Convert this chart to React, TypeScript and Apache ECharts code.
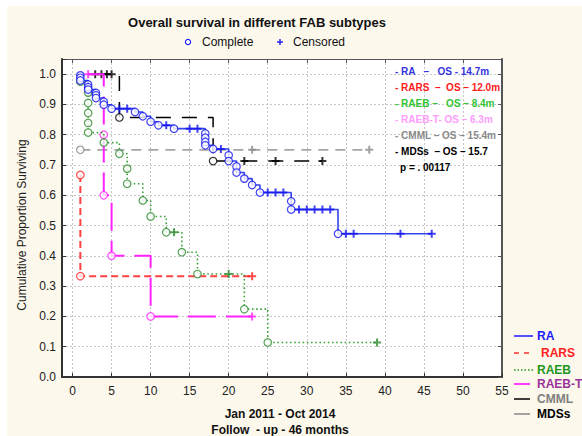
import React, { useEffect, useRef } from "react";
import * as echarts from "echarts";

// Kaplan–Meier estimates by FAB subtype: month, survival, censored flag (1 = censored)
const raMonths = [1, 1, 1, 2, 2, 2, 3, 3, 3, 4, 4, 5, 6, 7, 8, 9, 10, 11, 12, 13, 15, 16, 17, 17, 17, 17, 18, 19, 20, 20, 21, 21, 22, 23, 24, 25, 26, 27, 28, 28, 29, 30, 31, 32, 33, 34, 35, 36, 42, 46];
const raSurvival = [0.996, 0.988, 0.979, 0.966, 0.957, 0.949, 0.938, 0.93, 0.921, 0.909, 0.899, 0.886, 0.886, 0.886, 0.875, 0.861, 0.843, 0.831, 0.831, 0.82, 0.82, 0.82, 0.804, 0.79, 0.776, 0.765, 0.753, 0.753, 0.732, 0.713, 0.695, 0.675, 0.655, 0.634, 0.609, 0.609, 0.609, 0.609, 0.58, 0.553, 0.553, 0.553, 0.553, 0.553, 0.553, 0.473, 0.473, 0.473, 0.473, 0.473];
const raCensored = [0, 0, 0, 0, 0, 0, 0, 0, 0, 0, 0, 0, 1, 1, 0, 0, 0, 0, 1, 0, 1, 1, 0, 0, 0, 0, 0, 1, 0, 0, 0, 0, 0, 0, 0, 1, 1, 1, 0, 0, 1, 1, 1, 1, 1, 0, 1, 1, 1, 1];

const rarsMonths = [1, 1, 23];
const rarsSurvival = [0.667, 0.333, 0.333];
const rarsCensored = [0, 0, 1];

const raebMonths = [1, 2, 2, 2, 2, 2, 4, 6, 7, 7, 9, 10, 12, 13, 14, 16, 20, 22, 25, 39];
const raebSurvival = [0.975, 0.939, 0.905, 0.872, 0.839, 0.807, 0.774, 0.737, 0.688, 0.638, 0.583, 0.53, 0.478, 0.478, 0.412, 0.34, 0.34, 0.224, 0.114, 0.114];
const raebCensored = [0, 0, 0, 0, 0, 0, 0, 0, 0, 0, 0, 0, 0, 1, 0, 0, 1, 0, 0, 1];

const raebtMonths = [2, 4, 4, 5, 10, 23];
const raebtSurvival = [1.0, 0.8, 0.6, 0.4, 0.2, 0.2];
const raebtCensored = [1, 0, 0, 0, 0, 1];

const cmmlMonths = [1, 23, 38];
const cmmlSurvival = [0.75, 0.75, 0.75];
const cmmlCensored = [0, 1, 1];

const mdsMonths = [2.9, 3.7, 4.4, 5.0, 6, 18, 22, 26, 32];
const mdsSurvival = [1, 1, 1, 1, 0.857, 0.713, 0.713, 0.713, 0.713];
const mdsCensored = [1, 1, 1, 1, 0, 0, 1, 1, 1];

const xTicks = [0, 5, 10, 15, 20, 25, 30, 35, 40, 45, 50, 55];

const osNotes = [
  "- RA   \u2013   OS - 14.7m",
  "- RARS  \u2013  OS \u2013 12.0m",
  "- RAEB \u2013   OS \u2013 8.4m",
  "- RAEB-T- OS \u2013 6.3m",
  "- CMML \u2013 OS \u2013 15.4m",
  "- MDSs  \u2013 OS \u2013 15.7",
  "p = . 00117",
];
const osNoteColors = ["#3535E0", "#FF1A1A", "#33C433", "#FF9CFF", "#8A8A8A", "#000000", "#000000"];

const legendNames = ["RA", "RARS", "RAEB", "RAEB-T", "CMML", "MDSs"];
const legendTextColors = ["#1A1AFF", "#FF2020", "#1E961E", "#993399", "#808080", "#000000"];

const FONT = '"Liberation Sans", Arial, sans-serif';
const PLUS = "path://M3,0H5V3H8V5H5V8H3V5H0V3H3Z";

type Style = { color: string; marker: string; width: number; dash: number[] | "solid" };

function kmSeries(name: string, months: number[], surv: number[], cens: number[], s: Style, z: number) {
  const pts = months.map((m, i) => [m, surv[i]]);
  return [
    {
      name,
      type: "line",
      step: "end",
      data: pts,
      symbol: "none",
      silent: true,
      z,
      lineStyle: { color: s.color, width: s.width, type: s.dash },
    },
    {
      name: name + "-marks",
      type: "scatter",
      silent: true,
      z: z + 1,
      data: pts.map((p, i) =>
        cens[i]
          ? { value: p, symbol: PLUS, symbolSize: 8, itemStyle: { color: s.marker, borderWidth: 0 } }
          : { value: p, symbol: "circle", symbolSize: 7.5, itemStyle: { color: "#ffffff", borderColor: s.marker, borderWidth: 1.2 } }
      ),
    },
  ];
}

const styles: Record<string, Style> = {
  RA: { color: "#3344EE", marker: "#1414F0", width: 1.6, dash: "solid" },
  RARS: { color: "#FF4040", marker: "#FF2020", width: 2, dash: [7, 4] },
  RAEB: { color: "#3AA33A", marker: "#2A8A2A", width: 1.6, dash: [1.6, 2.6] },
  RAEBT: { color: "#FF22FF", marker: "#FF22FF", width: 2, dash: [28, 10] },
  CMML: { color: "#A5A5A5", marker: "#8A8A8A", width: 1.8, dash: [10, 7] },
  MDS: { color: "#000000", marker: "#000000", width: 1.5, dash: [15, 11] },
};

const legendLines: { color: string; width: number; dash: number[] | "solid" }[] = [
  { color: "#1A1AFF", width: 1.5, dash: "solid" },
  { color: "#FF3030", width: 1.5, dash: [5, 5] },
  { color: "#1E961E", width: 1.5, dash: [1.5, 2] },
  { color: "#FF00FF", width: 1.5, dash: "solid" },
  { color: "#000000", width: 1.5, dash: "solid" },
  { color: "#888888", width: 1.5, dash: "solid" },
];

function buildOption() {
  const series = [
    ...kmSeries("CMML", cmmlMonths, cmmlSurvival, cmmlCensored, styles.CMML, 2),
    ...kmSeries("MDSs", mdsMonths, mdsSurvival, mdsCensored, styles.MDS, 4),
    ...kmSeries("RARS", rarsMonths, rarsSurvival, rarsCensored, styles.RARS, 6),
    ...kmSeries("RAEB-T", raebtMonths, raebtSurvival, raebtCensored, styles.RAEBT, 8),
    ...kmSeries("RAEB", raebMonths, raebSurvival, raebCensored, styles.RAEB, 10),
    ...kmSeries("RA", raMonths, raSurvival, raCensored, styles.RA, 12),
  ];

  const graphic: any[] = [
    {
      type: "text",
      x: 257,
      y: 22,
      style: { text: "Overall survival in different FAB subtypes", font: `bold 13px ${FONT}`, fill: "#111", align: "center", verticalAlign: "middle" },
    },
    { type: "circle", shape: { cx: 188, cy: 42, r: 2.6 }, style: { fill: "#fff", stroke: "#1A1AFF", lineWidth: 1.2 } },
    { type: "text", x: 202, y: 42, style: { text: "Complete", font: `12px ${FONT}`, fill: "#111", verticalAlign: "middle" } },
    { type: "line", shape: { x1: 277, y1: 42, x2: 283, y2: 42 }, style: { stroke: "#1A1AFF", lineWidth: 1.4 } },
    { type: "line", shape: { x1: 280, y1: 39, x2: 280, y2: 45 }, style: { stroke: "#1A1AFF", lineWidth: 1.4 } },
    { type: "text", x: 293, y: 42, style: { text: "Censored", font: `12px ${FONT}`, fill: "#111", verticalAlign: "middle" } },
    {
      type: "text",
      x: 22,
      y: 225,
      rotation: Math.PI / 2,
      style: { text: "Cumulative Proportion Surviving", font: `12px ${FONT}`, fill: "#222", align: "center", verticalAlign: "middle" },
    },
    { type: "text", x: 280, y: 414, style: { text: "Jan 2011 - Oct 2014", font: `bold 12px ${FONT}`, fill: "#111", align: "center", verticalAlign: "middle" } },
    { type: "text", x: 280, y: 430, style: { text: "Follow  - up - 46 months", font: `bold 12px ${FONT}`, fill: "#111", align: "center", verticalAlign: "middle" } },
  ];

  const noteY = [71, 87, 103, 119, 135, 151.5, 167];
  osNotes.forEach((t, i) => {
    graphic.push({
      type: "text",
      x: i === 6 ? 400 : 395,
      y: noteY[i],
      z: 50,
      style: { text: t, font: `bold 10px ${FONT}`, fill: osNoteColors[i], verticalAlign: "middle" },
    });
  });

  const legY = [336, 353, 370, 384, 399, 414];
  legendNames.forEach((n, i) => {
    const l = legendLines[i];
    graphic.push({
      type: "line",
      shape: { x1: 514, y1: legY[i], x2: i === 0 || i === 2 ? 533 : 530, y2: legY[i] },
      style: { stroke: l.color, lineWidth: l.width, lineDash: l.dash === "solid" ? null : l.dash },
    });
    graphic.push({
      type: "text",
      x: i === 1 ? 541 : 537,
      y: legY[i],
      style: { text: n, font: `bold 12px ${FONT}`, fill: legendTextColors[i], verticalAlign: "middle" },
    });
  });

  const gridLine = { show: true, lineStyle: { color: "#C6C6C6", width: 1, type: [2, 2] } };

  return {
    animation: false,
    backgroundColor: "transparent",
    grid: { left: 62, top: 59, right: 80, bottom: 59, show: true, backgroundColor: "#ffffff", borderWidth: 0 },
    xAxis: [
      {
        type: "value",
        min: -1.35,
        max: 55,
        position: "bottom",
        axisLine: { show: true, onZero: false, lineStyle: { color: "#333", width: 2 } },
        axisTick: { show: true, inside: true, length: 4, customValues: xTicks, lineStyle: { color: "#333" } },
        axisLabel: { customValues: xTicks, color: "#222", fontSize: 12, fontFamily: FONT, margin: 8 },
        splitLine: gridLine,
      },
      {
        type: "value",
        min: -1.35,
        max: 55,
        position: "top",
        axisLine: { show: true, onZero: false, lineStyle: { color: "#555", width: 1 } },
        axisTick: { show: true, inside: true, length: 4, customValues: xTicks, lineStyle: { color: "#555" } },
        axisLabel: { show: false },
        splitLine: { show: false },
      },
    ],
    yAxis: [
      {
        type: "value",
        min: 0,
        max: 1.05,
        interval: 0.1,
        position: "left",
        axisLine: { show: true, onZero: false, lineStyle: { color: "#333", width: 2 } },
        axisTick: { show: true, inside: true, length: 4, lineStyle: { color: "#333" } },
        axisLabel: {
          color: "#222",
          fontSize: 12,
          fontFamily: FONT,
          margin: 6,
          formatter: (v: number) => (v > 1.001 ? "" : v.toFixed(1)),
        },
        splitLine: gridLine,
      },
      {
        type: "value",
        min: 0,
        max: 1.05,
        interval: 0.1,
        position: "right",
        axisLine: { show: true, onZero: false, lineStyle: { color: "#555", width: 2 } },
        axisTick: { show: true, inside: true, length: 4, lineStyle: { color: "#555" } },
        axisLabel: { show: false },
        splitLine: { show: false },
      },
    ],
    series,
    graphic,
  };
}

export default function App() {
  const ref = useRef<HTMLDivElement>(null);
  useEffect(() => {
    if (!ref.current) return;
    const chart = echarts.init(ref.current, null, { renderer: "svg" });
    chart.setOption(buildOption() as any);
    return () => chart.dispose();
  }, []);
  return (
    <div style={{ position: "fixed", left: 0, top: 0, width: 582, height: 436, background: "#ffffff", overflow: "hidden" }}>
      <div style={{ position: "absolute", left: 7, top: 6, right: 0, bottom: 0, background: "#FCF8EC" }} />
      <div ref={ref} style={{ position: "absolute", left: 0, top: 0, width: 582, height: 436 }} />
    </div>
  );
}
